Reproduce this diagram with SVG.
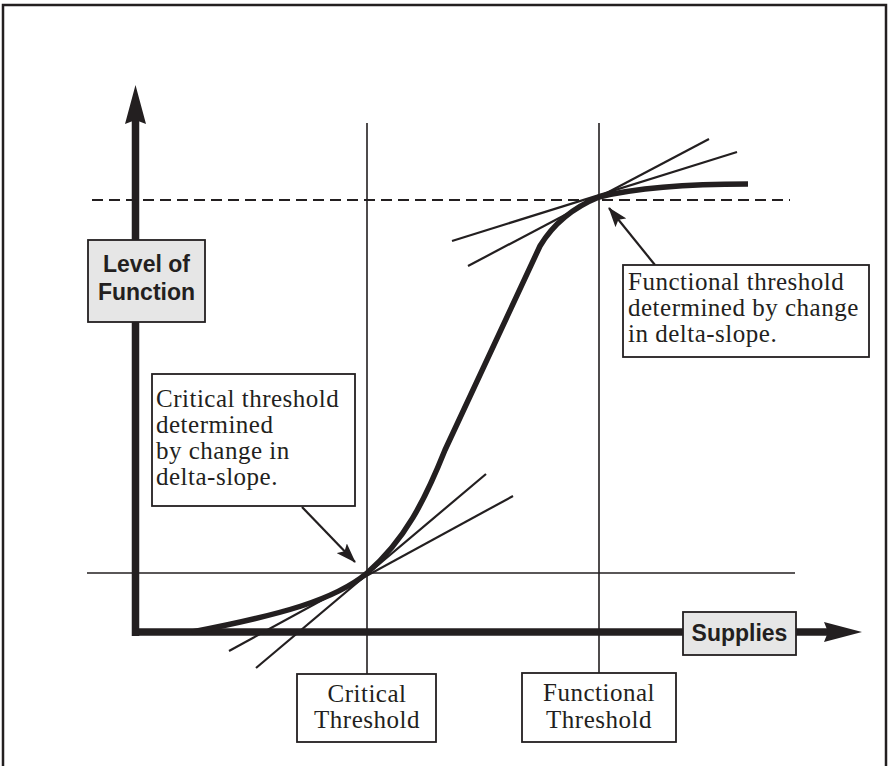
<svg xmlns="http://www.w3.org/2000/svg" width="890" height="766" viewBox="0 0 890 766">
  <style>
    .frame { fill: #ffffff; stroke: #231f20; stroke-width: 2.5; }
    .axis { fill: none; stroke: #231f20; stroke-width: 7.5; }
    .guide { fill: none; stroke: #231f20; stroke-width: 1.6; }
    .dash { fill: none; stroke: #231f20; stroke-width: 2.2; stroke-dasharray: 11 6; }
    .tangent { fill: none; stroke: #231f20; stroke-width: 2.2; stroke-linecap: butt; }
    .curve { fill: none; stroke: #231f20; stroke-width: 5.5; stroke-linejoin: round; }
    .pointer { fill: none; stroke: #231f20; stroke-width: 2.2; }
    .head { fill: #231f20; }
    .tag { fill: #e6e6e6; stroke: #231f20; stroke-width: 1.8; }
    .note { fill: #ffffff; stroke: #231f20; stroke-width: 1.8; }
    .sans { font-family: "Liberation Sans", Arial, sans-serif; font-weight: bold; font-size: 23px; fill: #231f20; }
    .serif { font-family: "Liberation Serif", "Times New Roman", serif; font-size: 25px; fill: #231f20; letter-spacing: 0.5px; }
  </style>
  <defs>
    <marker id="callout" viewBox="0 0 20 14" refX="19" refY="7" markerWidth="20" markerHeight="14" markerUnits="userSpaceOnUse" orient="auto">
      <path class="head" d="M0,0 L20,7 L0,14 L4,7 Z"/>
    </marker>
  </defs>

  <!-- outer frame -->
  <rect class="frame" x="3" y="5" width="883" height="790"/>

  <g id="connectors">
    <!-- threshold guide lines -->
    <line class="guide" x1="87" y1="573" x2="795" y2="573"/>
    <line class="guide" x1="367" y1="123" x2="367" y2="674"/>
    <line class="guide" x1="599" y1="123" x2="599" y2="673"/>
    <line class="dash" x1="92" y1="200" x2="790" y2="200"/>

    <!-- axes -->
    <path class="axis" d="M135.5,636 V118"/>
    <path class="head" d="M135.5,85 L146,124 L135.5,120 L125,124 Z"/>
    <path class="axis" d="M132,632 H830"/>
    <path class="head" d="M862,632 L824,642 L828,632 L824,622 Z"/>

    <!-- tangents at the critical point -->
    <line class="tangent" x1="229" y1="651" x2="513" y2="496"/>
    <line class="tangent" x1="256" y1="668" x2="486" y2="474"/>
    <!-- tangents at the functional point -->
    <line class="tangent" x1="452" y1="241" x2="737" y2="152"/>
    <line class="tangent" x1="468" y1="266" x2="709" y2="139"/>

    <!-- response curve -->
    <path class="curve" d="M192,632 C280,615 335,600 367,573 C405,540 425,500 445,450 L540,246 C552,226 572,208 599,197 C640,187 690,184 748,184"/>

    <!-- callout pointers -->
    <line class="pointer" x1="302" y1="507" x2="355" y2="562" marker-end="url(#callout)"/>
    <line class="pointer" x1="655" y1="265" x2="609" y2="208" marker-end="url(#callout)"/>
  </g>

  <g id="level-of-function">
    <rect class="tag" x="88" y="240" width="117" height="82"/>
    <text class="sans" x="146.5" y="272" text-anchor="middle">Level of</text>
    <text class="sans" x="146.5" y="300" text-anchor="middle">Function</text>
  </g>

  <g id="supplies">
    <rect class="tag" x="683" y="612" width="113" height="43"/>
    <text class="sans" x="739.5" y="641" text-anchor="middle">Supplies</text>
  </g>

  <g id="critical-note">
    <rect class="note" x="152" y="374" width="203" height="132"/>
    <text class="serif" x="156" y="407">Critical threshold</text>
    <text class="serif" x="156" y="433">determined</text>
    <text class="serif" x="156" y="459">by change in</text>
    <text class="serif" x="156" y="485">delta-slope.</text>
  </g>

  <g id="functional-note">
    <rect class="note" x="623" y="265" width="246" height="92"/>
    <text class="serif" x="628" y="290">Functional threshold</text>
    <text class="serif" x="628" y="316">determined by change</text>
    <text class="serif" x="628" y="342">in delta-slope.</text>
  </g>

  <g id="critical-threshold">
    <rect class="note" x="297" y="674" width="139" height="68"/>
    <text class="serif" x="367" y="702" text-anchor="middle">Critical</text>
    <text class="serif" x="367" y="728" text-anchor="middle">Threshold</text>
  </g>

  <g id="functional-threshold">
    <rect class="note" x="522" y="673" width="154" height="69"/>
    <text class="serif" x="599" y="701" text-anchor="middle">Functional</text>
    <text class="serif" x="599" y="728" text-anchor="middle">Threshold</text>
  </g>
</svg>
